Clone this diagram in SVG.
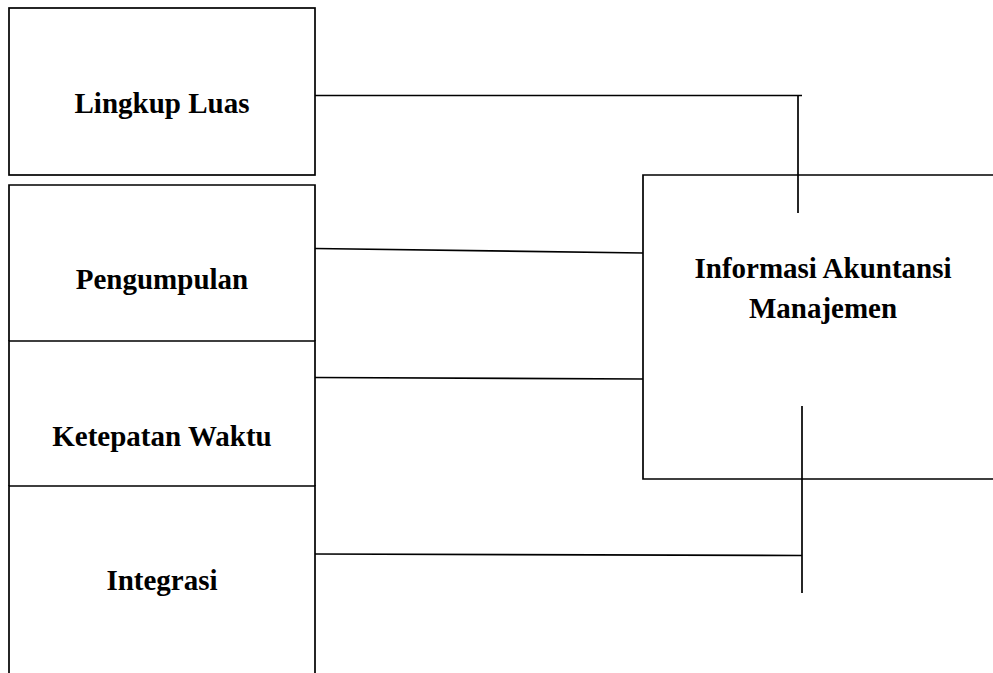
<svg xmlns="http://www.w3.org/2000/svg" width="993" height="673" viewBox="0 0 993 673">
<style>
.b{fill:none;stroke:#000;stroke-width:1.7}
.c{fill:none;stroke:#000;stroke-width:1.7}
text{font-family:"Liberation Serif","Times New Roman",serif;font-weight:bold;font-size:29px;fill:#000;text-anchor:middle}
</style>
<rect width="993" height="673" fill="#fff"/>
<g id="lingkup">
<rect class="b" x="9" y="8" width="306" height="167"/>
<text x="162" y="113">Lingkup Luas</text>
</g>
<g id="pengumpulan">
<path class="b" d="M9,341 V185 H315 V341"/>
<text x="162" y="289">Pengumpulan</text>
</g>
<g id="ketepatan">
<path class="b" d="M9,486 V341 H315 V486"/>
<text x="162" y="446">Ketepatan Waktu</text>
</g>
<g id="integrasi">
<path class="b" d="M9,673 V486 H315 V673"/>
<text x="162" y="590">Integrasi</text>
</g>
<g id="informasi">
<path class="b" d="M993,175 H643 V479 H993"/>
<text x="823" y="278">Informasi Akuntansi</text>
<text x="823" y="318">Manajemen</text>
</g>
<g id="connectors">
<path class="c" d="M315,95.5 H802"/>
<path class="c" d="M798,95.5 V213"/>
<path class="c" d="M315,248.5 L643,253"/>
<path class="c" d="M315,377.5 L643,379"/>
<path class="c" d="M315,554 L802,555.5"/>
<path class="c" d="M802,406 V593"/>
</g>
</svg>
